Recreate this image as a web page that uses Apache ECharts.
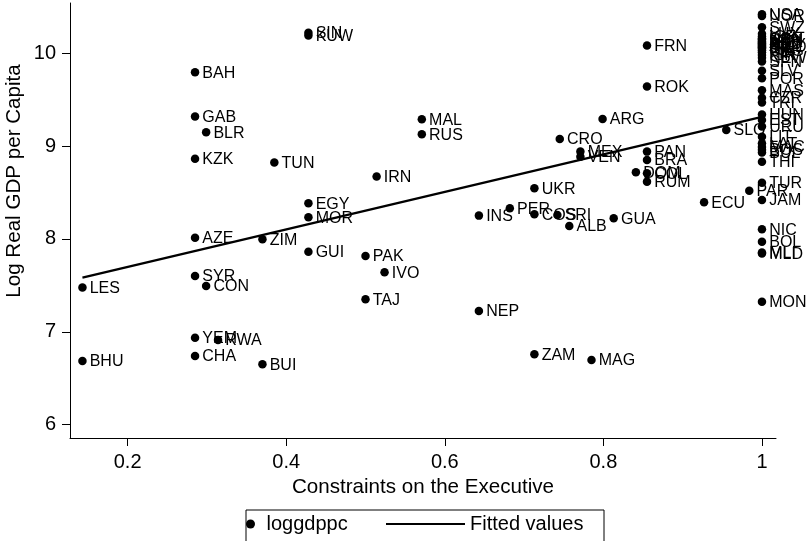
<!DOCTYPE html>
<html><head><meta charset="utf-8">
<script src="https://cdn.jsdelivr.net/npm/echarts@6/dist/echarts.min.js"></script>
<style>html,body{margin:0;padding:0;background:#fff}#c{width:807px;height:541px}</style>
</head><body><div id="c"></div>
<script>
// Country codes, constraints on the executive, log real GDP per capita
const codes = [
  'LES','BHU','BAH','GAB','KZK','AZE','SYR','YEM','CHA','BLR','CON','RWA','ZIM','BUI','TUN',
  'SIN','KUW','EGY','MOR','GUI','PAK','TAJ','IRN','IVO','MAL','RUS','INS','NEP','PER','UKR',
  'COS','ZAM','SRI','CRO','ALB','MEX','VEN','MAG','ARG','GUA','DOM','FRN','ROK','PAN','BRA',
  'COL','RUM','ECU','SLO','PAR',
  'USA','NOR','SWZ','LUX','ICE','CAN','DEN','NTH','JPN','AUS','BEL','GMY','AUL','SWD','IRE',
  'ITA','UKG','FIN','ISR','NEW','SPN','SLV','POR','MAS','CZR','TRI','HUN','EST','URU','LIT',
  'LAT','MAC','BOS','BUL','THI','TUR','JAM','NIC','BOL','MLI','MLD','MON'
];
const constraints = [
  0.143,0.143,0.285,0.285,0.285,0.285,0.285,0.285,0.285,0.299,0.299,0.314,0.370,0.370,0.385,
  0.428,0.428,0.428,0.428,0.428,0.500,0.500,0.514,0.524,0.571,0.571,0.643,0.643,0.682,0.713,
  0.713,0.713,0.742,0.745,0.757,0.771,0.771,0.785,0.799,0.813,0.841,0.855,0.855,0.855,0.855,
  0.855,0.855,0.927,0.955,0.984,
  1,1,1,1,1,1,1,1,1,1,1,1,1,1,1,
  1,1,1,1,1,1,1,1,1,1,1,1,1,1,1,
  1,1,1,1,1,1,1,1,1,1,1,1
];
const loggdppc = [
  7.476,6.686,9.795,9.317,8.862,8.014,7.602,6.937,6.740,9.149,7.494,6.912,7.997,6.650,8.822,
  10.22,10.19,8.384,8.234,7.863,7.817,7.350,8.671,7.641,9.289,9.128,8.251,7.225,8.331,8.546,
  8.266,6.758,8.258,9.077,8.140,8.940,8.886,6.697,9.292,8.223,8.718,10.082,9.640,8.940,8.851,
  8.708,8.617,8.395,9.174,8.520,
  10.42,10.40,10.28,10.21,10.18,10.16,10.15,10.13,10.12,10.11,10.10,10.09,10.08,10.07,10.06,
  10.05,10.03,10.01,9.98,9.95,9.91,9.81,9.73,9.60,9.52,9.47,9.34,9.28,9.21,9.10,
  9.03,8.99,8.96,8.93,8.83,8.606,8.420,8.104,7.971,7.855,7.842,7.325
];
// Fitted regression line end points
const fitX = [0.143, 1];
const fitY = [7.583, 9.313];
// Tick labels
const xTicks = [0.2, 0.4, 0.6, 0.8, 1];
const yTicks = [6, 7, 8, 9, 10];

const FONT = 'Liberation Sans, Arial, Helvetica, sans-serif';
const pts = codes.map((c, i) => ({ name: c, value: [constraints[i], loggdppc[i]] }));
const inner = pts.filter(p => p.value[0] < 0.999);
const column = pts.filter(p => p.value[0] >= 0.999);

const scatterBase = {
  type: 'scatter',
  name: 'loggdppc',
  symbol: 'circle',
  symbolSize: 8.5,
  itemStyle: { color: '#000', opacity: 1 },
  label: {
    show: true, position: 'right', distance: 3, offset: [0, 1],
    formatter: '{b}', color: '#000', opacity: 1, fontSize: 16, fontFamily: FONT
  },
  emphasis: { disabled: true },
  silent: true
};

const chart = echarts.init(document.getElementById('c'), null, { renderer: 'canvas' });
chart.setOption({
  animation: false,
  backgroundColor: '#fff',
  textStyle: { fontFamily: FONT, color: '#000' },
  grid: { left: 70, right: 31, top: 3, bottom: 103 },
  xAxis: {
    type: 'value', min: 0.1273, max: 1.0177,
    axisLine: { show: true, lineStyle: { color: '#000', width: 1 } },
    axisTick: { show: true, length: 8, customValues: xTicks, lineStyle: { color: '#000' } },
    axisLabel: { customValues: xTicks, fontSize: 20, color: '#000', margin: 14, fontFamily: FONT },
    splitLine: { show: false },
    name: 'Constraints on the Executive', nameLocation: 'middle', nameGap: 39,
    nameTextStyle: { fontSize: 20.6, color: '#000', fontFamily: FONT }
  },
  yAxis: {
    type: 'value', min: 5.857, max: 10.54,
    axisLine: { show: true, lineStyle: { color: '#000', width: 1 } },
    axisTick: { show: true, length: 8, customValues: yTicks, lineStyle: { color: '#000' } },
    axisLabel: { customValues: yTicks, fontSize: 20, color: '#000', margin: 14, fontFamily: FONT },
    splitLine: { show: false }
  },
  legend: [
    {
      data: ['loggdppc'], left: 246, top: 514, padding: 0,
      itemWidth: 22, itemHeight: 9, icon: 'circle', selectedMode: false,
      itemStyle: { opacity: 1 },
      textStyle: { fontSize: 20, color: '#000', fontFamily: FONT }
    },
    {
      data: [{ name: 'Fitted values', icon: 'rect' }], left: 386, top: 514, padding: 0,
      itemWidth: 79, itemHeight: 2, selectedMode: false,
      itemStyle: { color: '#000', opacity: 1 },
      textStyle: { fontSize: 20, color: '#000', fontFamily: FONT }
    }
  ],
  graphic: [
    { type: 'rect', left: 243.5, top: 507.5, shape: { width: 358, height: 32 },
      style: { fill: 'none', stroke: '#000', lineWidth: 1 }, silent: true, z: -1 },
    { type: 'text', x: 14, y: 181, rotation: Math.PI / 2,
      style: { text: 'Log Real GDP per Capita', fontSize: 20.6, fontFamily: FONT, fill: '#000',
               textAlign: 'center', textVerticalAlign: 'middle' }, silent: true }
  ],
  series: [
    Object.assign({}, scatterBase, { data: inner, z: 2 }),
    Object.assign({}, scatterBase, { data: column, z: 2.5 }),
    {
      type: 'line', name: 'Fitted values',
      data: fitX.map((x, i) => [x, fitY[i]]),
      symbol: 'none', showSymbol: false,
      lineStyle: { color: '#000', width: 2.3 },
      itemStyle: { color: '#000' },
      emphasis: { disabled: true }, silent: true, z: 3
    }
  ]
});
</script>
</body></html>
